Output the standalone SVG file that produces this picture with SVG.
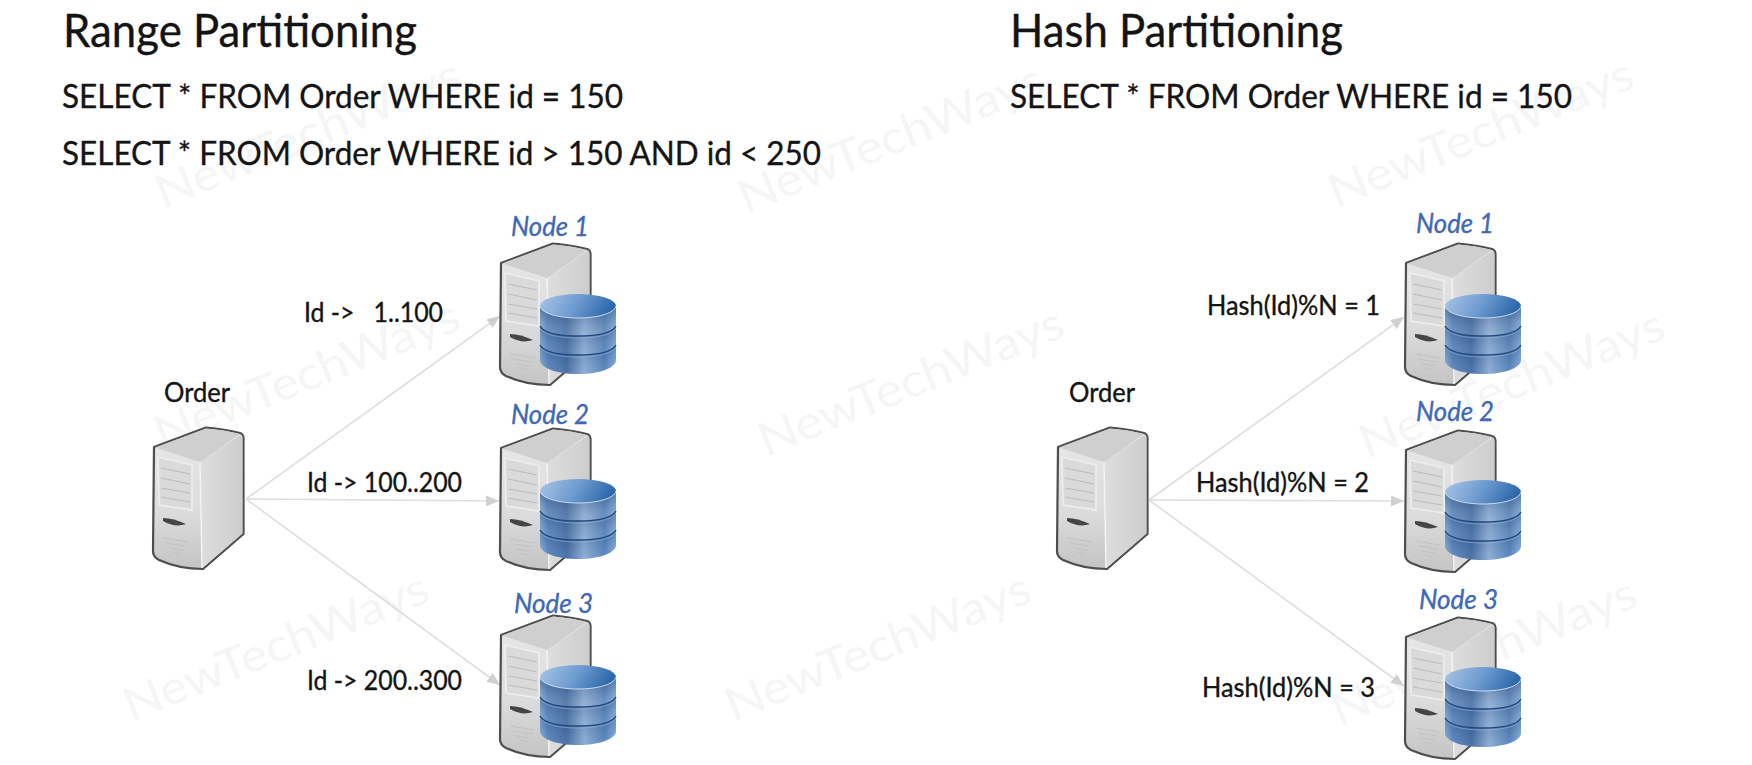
<svg xmlns="http://www.w3.org/2000/svg" xmlns:xlink="http://www.w3.org/1999/xlink" width="1752" height="765" viewBox="0 0 1752 765">
<style>
text{font-family:Lato,"Liberation Sans",sans-serif;fill:#141414;stroke:#141414;stroke-width:0.35}
.title{font-size:46px}
.sql{font-size:33px}
.lbl{font-size:26px}
.node{font-size:26.5px;font-style:italic;fill:#4068b4;stroke:#4068b4}
.wm{font-size:46px;fill:#f4f5f6;stroke:none;text-anchor:middle;dominant-baseline:central}
.conn{fill:none;stroke:#dedede;stroke-width:1.6}
</style>
<defs>
<marker id="arrow" markerUnits="userSpaceOnUse" markerWidth="14" markerHeight="14" refX="13" refY="7" orient="auto"><path d="M0 1.5L13 7L0 12.5Z" fill="#d0d0d0"/></marker>
<linearGradient id="front" x1="0" y1="0" x2="0" y2="1"><stop offset="0" stop-color="#e8e8e8"/><stop offset="0.6" stop-color="#dcdcdc"/><stop offset="1" stop-color="#c4c4c4"/></linearGradient>
<linearGradient id="side" x1="0" y1="0" x2="1" y2="0"><stop offset="0" stop-color="#dedede"/><stop offset="1" stop-color="#cdcdcd"/></linearGradient>
<linearGradient id="cylBody" x1="0" y1="0" x2="1" y2="0"><stop offset="0" stop-color="#7ea7d6"/><stop offset="0.1" stop-color="#4d7cb8"/><stop offset="0.35" stop-color="#345f9b"/><stop offset="0.58" stop-color="#7fa4d0"/><stop offset="0.85" stop-color="#4878b4"/><stop offset="1" stop-color="#7ea7d8"/></linearGradient>
<linearGradient id="cylTop" x1="0" y1="0" x2="1" y2="0.2"><stop offset="0" stop-color="#a9c6e6"/><stop offset="0.55" stop-color="#6d9ad0"/><stop offset="1" stop-color="#2f6aab"/></linearGradient>
<linearGradient id="band" x1="0" y1="0" x2="0" y2="1"><stop offset="0" stop-color="#16335f" stop-opacity="0.4"/><stop offset="1" stop-color="#ffffff" stop-opacity="0.2"/></linearGradient>
<filter id="soft" x="-5%" y="-5%" width="110%" height="110%"><feGaussianBlur stdDeviation="0.65"/></filter>
<g id="server">
<path d="M1 20L53 0.5Q72 2 87 6Q90.5 7 90.5 11L90.5 107L50 142Q26 142 6 133Q0 130 0 124Z" fill="url(#front)" stroke="#4d4d4d" stroke-width="2.2" stroke-linejoin="round"/>
<path d="M2 20.5L53 1.5Q72 3 87 7L47 35Z" fill="#d0cfcf"/>
<path d="M47 35L88 7.5Q89.5 8 89.5 11L89.5 106.5L49.5 141Z" fill="url(#side)"/>
<path d="M47 35L49 141" stroke="#f4f4f4" stroke-width="1.4" fill="none"/>
<path d="M5 30L39 38L39 83L6 78Z" fill="#dadada" stroke="#eeeeee" stroke-width="1.6"/>
<path d="M8 41L37 47M8 51L37 57M8 61L37 66M8 70L37 75" stroke="#bcbcbc" stroke-width="1.1" fill="none"/>
<path d="M10 91Q20 91 33 97Q22 101 10 94Z" fill="#444"/>
<path d="M10 111L35 115M13 116L33 119M16 121L30 123M20 125L27 127" stroke="#c2c2c2" stroke-width="1.2" fill="none"/>
</g>
<g id="cyl">
<path d="M0 12L0 66C0 74 17 80 38 80C59 80 76 74 76 66L76 12Z" fill="url(#cylBody)"/>
<path d="M0 13C2 20 20 24 38 24C56 24 74 20 76 13L76 33C72 39 56 42 38 42C20 42 4 39 0 33Z" fill="url(#band)"/>
<path d="M0 33C4 39 20 42 38 42C56 42 72 39 76 33L76 52C72 58 56 61 38 61C20 61 4 58 0 52Z" fill="url(#band)" opacity="0.75"/>
<path d="M0 52C4 58 20 61 38 61C56 61 72 58 76 52L76 66C76 74 59 80 38 80C17 80 0 74 0 66Z" fill="url(#band)" opacity="0.6"/>
<path d="M0 32C4 39 20 42 38 42C56 42 72 39 76 32M0 51C4 58 20 61 38 61C56 61 72 58 76 51" fill="none" stroke="#24487c" stroke-width="1.5"/>
<path d="M0 34C4 41 20 44 38 44C56 44 72 41 76 34M0 53C4 60 20 63 38 63C56 63 72 60 76 53" fill="none" stroke="#9dbbdd" stroke-width="0.8" opacity="0.7"/>
<ellipse cx="38" cy="12" rx="38" ry="12" fill="url(#cylTop)"/>
<path d="M0 12C2 20 20 24 38 24C56 24 74 20 76 12" fill="none" stroke="#cddcee" stroke-width="1"/>
</g>
</defs>
<rect width="1752" height="765" fill="#ffffff"/>
<g id="watermarks">
<text class="wm" transform="translate(307 132) rotate(-22)" textLength="325" lengthAdjust="spacingAndGlyphs">NewTechWays</text>
<text class="wm" transform="translate(890 137) rotate(-22)" textLength="325" lengthAdjust="spacingAndGlyphs">NewTechWays</text>
<text class="wm" transform="translate(1480 131) rotate(-22)" textLength="325" lengthAdjust="spacingAndGlyphs">NewTechWays</text>
<text class="wm" transform="translate(306 373) rotate(-22)" textLength="325" lengthAdjust="spacingAndGlyphs">NewTechWays</text>
<text class="wm" transform="translate(910 380) rotate(-22)" textLength="325" lengthAdjust="spacingAndGlyphs">NewTechWays</text>
<text class="wm" transform="translate(1511 382) rotate(-22)" textLength="325" lengthAdjust="spacingAndGlyphs">NewTechWays</text>
<text class="wm" transform="translate(275 645) rotate(-22)" textLength="325" lengthAdjust="spacingAndGlyphs">NewTechWays</text>
<text class="wm" transform="translate(877 645) rotate(-22)" textLength="325" lengthAdjust="spacingAndGlyphs">NewTechWays</text>
<text class="wm" transform="translate(1483 650) rotate(-22)" textLength="325" lengthAdjust="spacingAndGlyphs">NewTechWays</text>
</g>
<g id="headings">
<text class="title" x="63" y="47" textLength="354" lengthAdjust="spacingAndGlyphs">Range Partitioning</text>
<text class="sql" x="62" y="108" textLength="561" lengthAdjust="spacingAndGlyphs">SELECT * FROM Order WHERE id = 150</text>
<text class="sql" x="62" y="165" textLength="759" lengthAdjust="spacingAndGlyphs">SELECT * FROM Order WHERE id &gt; 150 AND id &lt; 250</text>
<text class="title" x="1010" y="47" textLength="333" lengthAdjust="spacingAndGlyphs">Hash Partitioning</text>
<text class="sql" x="1010" y="108" textLength="562" lengthAdjust="spacingAndGlyphs">SELECT * FROM Order WHERE id = 150</text>
</g>
<g id="connectors">
<path class="conn" marker-end="url(#arrow)" d="M246 499L500 316"/>
<path class="conn" marker-end="url(#arrow)" d="M246 499L499 501"/>
<path class="conn" marker-end="url(#arrow)" d="M246 499L500 685"/>
<path class="conn" marker-end="url(#arrow)" d="M1149 500L1404 317"/>
<path class="conn" marker-end="url(#arrow)" d="M1149 500L1404 501"/>
<path class="conn" marker-end="url(#arrow)" d="M1149 500L1404 686"/>
</g>
<g id="edge-labels">
<text class="lbl" x="304" y="322" textLength="139" lengthAdjust="spacingAndGlyphs" xml:space="preserve">Id ->   1..100</text>
<text class="lbl" x="307" y="492" textLength="155" lengthAdjust="spacingAndGlyphs">Id -> 100..200</text>
<text class="lbl" x="307" y="690" textLength="155" lengthAdjust="spacingAndGlyphs">Id -> 200..300</text>
<text class="lbl" x="1207" y="315" textLength="173" lengthAdjust="spacingAndGlyphs">Hash(Id)%N = 1</text>
<text class="lbl" x="1196" y="492" textLength="173" lengthAdjust="spacingAndGlyphs">Hash(Id)%N = 2</text>
<text class="lbl" x="1202" y="697" textLength="173" lengthAdjust="spacingAndGlyphs">Hash(Id)%N = 3</text>
</g>
<g id="range-order"><use href="#server" xlink:href="#server" x="153" y="427" filter="url(#soft)"/><text class="lbl" x="164" y="402" textLength="66" lengthAdjust="spacingAndGlyphs">Order</text></g>
<g id="range-node-1"><use href="#server" xlink:href="#server" x="500" y="243" filter="url(#soft)"/><use href="#cyl" xlink:href="#cyl" x="540" y="294" filter="url(#soft)"/><text class="node" x="511" y="236" textLength="78" lengthAdjust="spacingAndGlyphs">Node 1</text></g>
<g id="range-node-2"><use href="#server" xlink:href="#server" x="500" y="428" filter="url(#soft)"/><use href="#cyl" xlink:href="#cyl" x="540" y="479" filter="url(#soft)"/><text class="node" x="511" y="424" textLength="78" lengthAdjust="spacingAndGlyphs">Node 2</text></g>
<g id="range-node-3"><use href="#server" xlink:href="#server" x="500" y="615" filter="url(#soft)"/><use href="#cyl" xlink:href="#cyl" x="540" y="665" filter="url(#soft)"/><text class="node" x="514" y="613" textLength="79" lengthAdjust="spacingAndGlyphs">Node 3</text></g>
<g id="hash-order"><use href="#server" xlink:href="#server" x="1057" y="427" filter="url(#soft)"/><text class="lbl" x="1069" y="402" textLength="66" lengthAdjust="spacingAndGlyphs">Order</text></g>
<g id="hash-node-1"><use href="#server" xlink:href="#server" x="1405" y="243" filter="url(#soft)"/><use href="#cyl" xlink:href="#cyl" x="1445" y="294" filter="url(#soft)"/><text class="node" x="1416" y="233" textLength="78" lengthAdjust="spacingAndGlyphs">Node 1</text></g>
<g id="hash-node-2"><use href="#server" xlink:href="#server" x="1405" y="430" filter="url(#soft)"/><use href="#cyl" xlink:href="#cyl" x="1445" y="480" filter="url(#soft)"/><text class="node" x="1416" y="421" textLength="78" lengthAdjust="spacingAndGlyphs">Node 2</text></g>
<g id="hash-node-3"><use href="#server" xlink:href="#server" x="1405" y="617" filter="url(#soft)"/><use href="#cyl" xlink:href="#cyl" x="1445" y="667" filter="url(#soft)"/><text class="node" x="1419" y="609" textLength="79" lengthAdjust="spacingAndGlyphs">Node 3</text></g>
</svg>
